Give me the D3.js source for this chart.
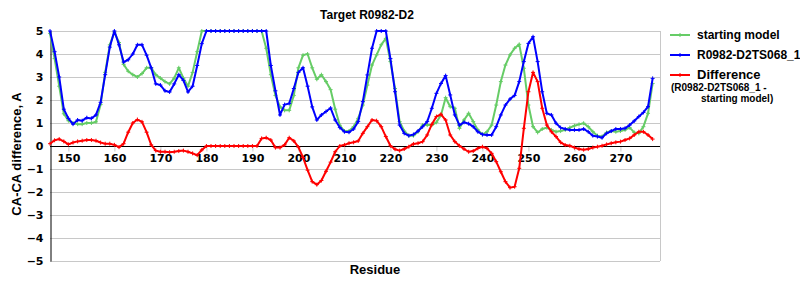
<!DOCTYPE html>
<html>
<head>
<meta charset="utf-8">
<script src="https://cdn.jsdelivr.net/npm/d3@7"></script>
<style>
  body { margin: 0; background: #fff; }
  text { font-family: "Liberation Sans", Arial, sans-serif; font-weight: bold; }
  .tick text { font-family: "DejaVu Sans", Verdana, sans-serif; font-size: 11px; }
</style>
</head>
<body>
<div class="chart"></div>
<script>
// residues 146..277
var residues = d3.range(146, 278);

var startingModel = [
  4.9, 3.8, 2.6, 1.4, 1.1, 1.0, 0.95, 0.95, 1.0, 1.0,        // 146-155
  1.05, 1.8, 3.2, 4.4, 4.95, 4.5, 3.55, 3.25, 3.1, 3.0,      // 156-165
  3.15, 3.4, 3.4, 3.1, 2.95, 2.8, 2.7, 2.95, 3.4, 2.95,      // 166-175
  2.6, 3.2, 4.1, 5, 5, 5, 5, 5, 5, 5,                        // 176-185
  5, 5, 5, 5, 5, 5, 5, 4.25, 3.1, 2.2,                       // 186-195
  1.7, 1.55, 1.55, 2.2, 3.4, 3.95, 4.0, 3.4, 2.9, 3.1,       // 196-205
  2.8, 2.45, 1.6, 0.9, 0.65, 0.65, 0.84, 1.2, 1.78, 2.65,    // 206-215
  3.52, 3.96, 4.4, 4.68, 3.67, 2.5, 1.06, 0.65, 0.45, 0.45,  // 216-225
  0.62, 0.91, 0.91, 0.91, 1.03, 1.35, 2.1, 1.71, 1.64, 0.77, // 226-235
  1.13, 1.42, 1.06, 0.7, 0.5, 0.62, 0.91, 1.78, 2.8, 3.52,   // 236-245
  3.96, 4.25, 4.42, 3.38, 1.78, 0.84, 0.59, 0.74, 0.8, 0.7,  // 246-255
  0.62, 0.65, 0.7, 0.8, 0.88, 0.94, 0.99, 0.84, 0.62, 0.45,  // 256-265
  0.41, 0.59, 0.65, 0.62, 0.65, 0.7, 0.8, 0.59, 0.55, 0.84,  // 266-275
  1.42, 2.72                                                 // 276-277
];

var model = [
  5.0, 4.1, 3.0, 1.6, 1.2, 0.95, 1.13, 1.1, 1.23, 1.2,
  1.35, 1.9, 3.1, 4.3, 5.0, 4.4, 3.65, 3.75, 4.0, 4.4,
  4.4, 3.95, 3.4, 2.7, 2.65, 2.4, 2.35, 2.7, 3.1, 2.85,
  2.35, 2.6, 3.5, 4.45, 5, 5, 5, 5, 5, 5,
  5, 5, 5, 5, 5, 5, 5, 5, 3.5, 2.4,
  1.35, 1.8, 1.85, 2.5, 3.2, 3.4, 2.6, 1.7, 1.13, 1.35,
  1.5, 1.65, 1.13, 0.8, 0.62, 0.6, 0.74, 1.06, 1.93, 3.09,
  4.25, 5, 5, 5, 3.8, 2.36, 0.91, 0.55, 0.45, 0.5,
  0.65, 0.84, 1.06, 1.64, 2.29, 2.72, 3.06, 2.22, 1.35, 0.91,
  1.03, 0.97, 0.84, 0.62, 0.5, 0.48, 0.48, 0.84, 1.35, 1.78,
  2.04, 2.2, 2.8, 3.67, 4.46, 4.75, 3.67, 2.36, 1.42, 1.35,
  0.99, 0.8, 0.74, 0.7, 0.7, 0.7, 0.74, 0.62, 0.45, 0.41,
  0.36, 0.55, 0.65, 0.74, 0.74, 0.77, 0.91, 1.09, 1.28, 1.46,
  1.71, 2.94
];

var difference = [
  0.1, 0.25, 0.3, 0.2, 0.07, 0.15, 0.2, 0.23, 0.26, 0.26,
  0.23, 0.15, 0.1, 0.1, 0.05, -0.05, 0.1, 0.6, 1.0, 1.15,
  1.05, 0.6, 0.05, -0.2, -0.25, -0.25, -0.27, -0.25, -0.22, -0.2,
  -0.25, -0.32, -0.4, -0.17, 0, 0, 0, 0, 0, 0,
  0, 0, 0, 0, 0, 0, 0.33, 0.36, 0.26, -0.07,
  -0.07, 0.05, 0.36, 0.22, -0.05, -0.5, -1.05, -1.55, -1.68, -1.5,
  -1.1, -0.7, -0.25, 0.0, 0.05, 0.12, 0.16, 0.22, 0.55, 0.84,
  1.13, 1.1, 0.84, 0.41, 0.01, -0.14, -0.2, -0.13, -0.03, 0.09,
  0.12, 0.19, 0.48, 0.94, 1.28, 1.38, 1.13, 0.48, 0.19, 0.01,
  -0.13, -0.25, -0.22, -0.1, -0.03, -0.1, -0.32, -0.68, -1.12, -1.55,
  -1.81, -1.77, -0.97, 0.77, 2.36, 3.2, 2.8, 1.64, 0.91, 0.62,
  0.41, 0.16, 0.04, 0.01, -0.07, -0.13, -0.16, -0.13, -0.07, -0.03,
  0.01, 0.07, 0.12, 0.16, 0.19, 0.26, 0.33, 0.48, 0.62, 0.62,
  0.48, 0.3
];

var xTicks = [150, 160, 170, 180, 190, 200, 210, 220, 230, 240, 250, 260, 270];
var yTicks = [-5, -4, -3, -2, -1, 0, 1, 2, 3, 4, 5];

var series = [
  { name: 'starting model', values: startingModel, color: '#66cc66' },
  { name: 'R0982-D2TS068_1', values: model, color: '#0000ff' },
  { name: 'Difference', values: difference, color: '#ff0000' }
];

var width = 800,
    height = 300,
    plotLeft = 50,
    plotRight = 660,
    plotTop = 31,
    plotBottom = 261;

var x = d3.scaleLinear().domain([146, 278.6]).range([plotLeft, plotRight]);
var y = d3.scaleLinear().domain([-5, 5]).range([plotBottom, plotTop]);

var svg = d3.select('.chart').append('svg')
    .attr('width', width)
    .attr('height', height);

// grid
svg.append('g')
  .selectAll('line')
  .data(yTicks)
  .enter().append('line')
    .attr('x1', plotLeft).attr('x2', plotRight)
    .attr('y1', d => y(d) + 0.5).attr('y2', d => y(d) + 0.5)
    .attr('stroke', '#c8c8c8')
    .attr('stroke-width', 1);

// right border
svg.append('line')
  .attr('x1', plotRight + 0.5).attr('x2', plotRight + 0.5)
  .attr('y1', plotTop).attr('y2', plotBottom)
  .attr('stroke', '#c8c8c8');

// y axis
var yAxis = d3.axisLeft(y)
  .tickValues(yTicks)
  .tickSize(0)
  .tickPadding(7)
  .tickFormat(d => d < 0 ? '\u2212' + Math.abs(d) : d);

svg.append('g')
  .attr('transform', 'translate(' + (plotLeft + 0.5) + ',0)')
  .call(yAxis)
  .call(g => g.select('.domain').attr('stroke', '#000'));

// x axis on the zero line
var xAxis = d3.axisBottom(x)
  .tickValues(xTicks)
  .tickSize(5)
  .tickPadding(3)
  .tickFormat(d3.format('d'));

svg.append('g')
  .attr('transform', 'translate(0,' + (y(0) + 0.5) + ')')
  .call(xAxis)
  .call(g => g.select('.domain').remove())
  .call(g => g.selectAll('.tick line').attr('stroke', '#c8c8c8'));

svg.append('line')
  .attr('x1', plotLeft).attr('x2', plotRight)
  .attr('y1', y(0) + 0.5).attr('y2', y(0) + 0.5)
  .attr('stroke', '#000');

// lines
var line = d3.line()
  .x((d, i) => x(residues[i]))
  .y(d => y(d));

var cross = 'M-2,0H2M0,-2V2';

series.forEach(function(s) {
  svg.append('path')
    .datum(s.values)
    .attr('d', line)
    .attr('fill', 'none')
    .attr('stroke', s.color)
    .attr('stroke-width', 2)
    .attr('stroke-linejoin', 'round');

  svg.append('g')
    .selectAll('path')
    .data(s.values)
    .enter().append('path')
      .attr('d', cross)
      .attr('transform', (d, i) => 'translate(' + x(residues[i]) + ',' + y(d) + ')')
      .attr('stroke', s.color)
      .attr('stroke-width', 1);
});

// titles
svg.append('text')
  .attr('x', 367).attr('y', 19)
  .attr('text-anchor', 'middle')
  .style('font-size', '12px')
  .text('Target R0982-D2');

svg.append('text')
  .attr('transform', 'translate(21,154) rotate(-90)')
  .attr('text-anchor', 'middle')
  .style('font-size', '13px')
  .text('CA-CA difference, A');

svg.append('text')
  .attr('x', 375).attr('y', 274)
  .attr('text-anchor', 'middle')
  .style('font-size', '13px')
  .text('Residue');

// legend
var legend = svg.append('g');
var legendY = [35, 55, 75];

series.forEach(function(s, i) {
  legend.append('line')
    .attr('x1', 670).attr('x2', 690)
    .attr('y1', legendY[i]).attr('y2', legendY[i])
    .attr('stroke', s.color)
    .attr('stroke-width', 2);
  legend.append('path')
    .attr('d', cross)
    .attr('transform', 'translate(680,' + legendY[i] + ')')
    .attr('stroke', s.color);
});

legend.append('text').attr('x', 697).attr('y', 39).style('font-size', '12px').text('starting model');
legend.append('text').attr('x', 697).attr('y', 59).style('font-size', '12px').text('R0982-D2TS068_1');
legend.append('text').attr('x', 697).attr('y', 79).style('font-size', '13px').text('Difference');
legend.append('text').attr('x', 671).attr('y', 91).style('font-size', '10px').text('(R0982-D2TS068_1 -');
legend.append('text').attr('x', 701).attr('y', 102).style('font-size', '10px').text('starting model)');
</script>
</body>
</html>
